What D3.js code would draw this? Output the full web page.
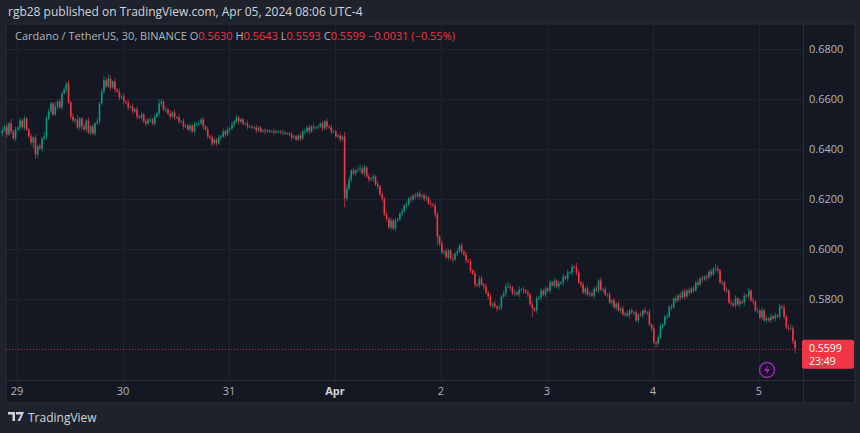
<!DOCTYPE html>
<html><head><meta charset="utf-8">
<script src="https://cdn.jsdelivr.net/npm/d3@7/dist/d3.min.js"></script>
<style>html,body{margin:0;padding:0;background:#1e222d;overflow:hidden}svg{display:block;font-family:"Open Sans","Noto Sans",sans-serif}</style>
</head><body><svg id="c" width="860" height="433"></svg>
<script>
// 30-min closes in pips (x0.0001), first candle Mar 28 20:30 (index -7 relative to Mar 29 00:00)
const closes = [
6472,6488,6456,6500,6468,6440,6476,6484,6512,6484,6520,6476,
6448,6424,6444,6376,6408,6400,6440,6448,6520,6548,6580,6536,
6568,6588,6564,6620,6636,6660,6584,6528,6512,6516,6484,6520,
6488,6476,6512,6464,6488,6460,6500,6508,6580,6628,6672,6648,
6680,6644,6668,6636,6628,6604,6608,6588,6584,6564,6568,6548,
6556,6528,6524,6536,6508,6500,6516,6516,6500,6528,6540,6580,
6588,6556,6556,6540,6528,6544,6524,6524,6508,6508,6488,6492,
6476,6492,6468,6496,6500,6500,6516,6488,6476,6448,6444,6420,
6436,6420,6444,6448,6468,6456,6476,6480,6496,6508,6524,6508,
6516,6500,6500,6488,6488,6484,6484,6472,6484,6468,6472,6468,
6472,6468,6468,6464,6468,6468,6464,6464,6460,6460,6456,6444,
6448,6436,6452,6440,6468,6468,6484,6468,6488,6484,6484,6488,
6500,6480,6508,6488,6484,6468,6468,6448,6452,6436,6448,6200,
6240,6276,6312,6300,6312,6316,6320,6300,6324,6288,6276,6280,
6288,6256,6248,6216,6200,6136,6120,6084,6112,6080,6112,6116,
6140,6148,6172,6176,6200,6196,6212,6208,6220,6208,6212,6200,
6204,6180,6176,6172,6136,6048,6020,5984,5988,5964,5992,5960,
5956,5980,5988,6012,5988,5976,5952,5948,5912,5900,5856,5852,
5880,5856,5848,5824,5808,5772,5780,5768,5760,5764,5808,5820,
5848,5848,5844,5820,5824,5816,5836,5836,5832,5824,5816,5776,
5760,5752,5800,5804,5832,5816,5840,5832,5864,5852,5872,5848,
5860,5864,5888,5880,5904,5904,5928,5924,5904,5864,5856,5824,
5840,5816,5820,5812,5840,5832,5872,5836,5836,5816,5816,5784,
5792,5764,5780,5752,5760,5736,5740,5732,5752,5744,5744,5712,
5736,5732,5752,5744,5744,5696,5680,5624,5620,5644,5688,5696,
5728,5728,5768,5764,5800,5792,5812,5804,5828,5808,5832,5824,
5840,5832,5864,5856,5880,5876,5888,5884,5908,5896,5920,5920,
5912,5864,5864,5832,5832,5784,5780,5772,5800,5776,5788,5784,
5812,5808,5832,5792,5788,5752,5752,5724,5752,5712,5720,5712,
5728,5720,5732,5728,5768,5764,5728,5684,5680,5680,5630,5599];
const firstOpen = 6460;
// upper / lower wick lengths per candle, one digit each (x6 pips)
const wickUp = [
"212131212121","121212132211","312121212131","121212121232","321212121212",
"121212121213","212121212121","121212121212","112121212121","111211121112",
"111211121112","111212121211","121212111213","321212322121","212121212121",
"121212121212","212122121211","312121212121","221212121212","232121212121",
"212121212121","212121213212","121212121212","121212121212","121212121221",
"121212121212","121212121213","212121212121","212121212121","212121212321"].join("");
const wickDn = [
"212121212121","124321212121","121212121212","212121212121","121212121212",
"121212121212","212121212121","121212121212","121212121212","111211121112",
"111211121112","111212121211","121212111216","212121212121","212121212121",
"121212121212","212126212121","212121212121","212121212121","212121212121",
"612121212121","212121212121","212121212121","212121212121","212121213212",
"121212121212","121212121212","212121212121","212121212121","212121212123"].join("");
const priceTicks = [0.58,0.60,0.62,0.64,0.66,0.68];
const dayLabels = ["29","30","31","Apr","2","3","4","5"];
const firstIndex = -7;

const svg = d3.select("#c");
const W=860,H=433, paneL=6, paneT=24, paneR=855, paneB=403, plotR=803;
svg.append("rect").attr("width",W).attr("height",H).attr("fill","#1e222d");
svg.append("rect").attr("x",paneL).attr("y",paneT).attr("width",paneR-paneL).attr("height",paneB-paneT)
  .attr("fill","#141823").attr("stroke","#2a2e39");

const y = d3.scaleLinear().domain([0.58,0.68]).range([298.5,48.5]);
const x = d3.scaleLinear().domain([0,8*48]).range([17,17+8*106]);

const g = svg.append("g");
g.selectAll(".hg").data(priceTicks).join("line").attr("x1",paneL).attr("x2",plotR)
 .attr("y1",d=>Math.round(y(d))+0.5).attr("y2",d=>Math.round(y(d))+0.5).attr("stroke","#1f2330");
g.selectAll(".vg").data(dayLabels).join("line").attr("x1",(d,i)=>Math.round(x(i*48))+0.5).attr("x2",(d,i)=>Math.round(x(i*48))+0.5)
 .attr("y1",paneT).attr("y2",380).attr("stroke","#1f2330");
g.append("line").attr("x1",plotR+0.5).attr("x2",plotR+0.5).attr("y1",paneT).attr("y2",paneB).attr("stroke","#2a2e39");
g.append("line").attr("x1",paneL).attr("x2",paneR).attr("y1",380.5).attr("y2",380.5).attr("stroke","#2a2e39");

const candles = closes.map((c,i)=>{
  const o = i===0?firstOpen:closes[i-1];
  const hi = Math.max(o,c)+(+wickUp[i]||1)*6, lo = Math.min(o,c)-(+wickDn[i]||1)*6;
  return {i:i+firstIndex,o:o/1e4,c:c/1e4,h:hi/1e4,l:lo/1e4};
});
const up="#089981", dn="#f23645";
const cg = g.append("g");
cg.selectAll("line").data(candles).join("line")
 .attr("x1",d=>x(d.i)+0.8).attr("x2",d=>x(d.i)+0.8).attr("y1",d=>y(d.h)).attr("y2",d=>y(d.l))
 .attr("stroke",d=>d.c>=d.o?up:dn).attr("stroke-width",0.9).attr("opacity",0.75);
cg.selectAll("rect").data(candles).join("rect")
 .attr("x",d=>x(d.i)).attr("width",1.6)
 .attr("y",d=>y(Math.max(d.o,d.c))).attr("height",d=>Math.max(0.8,Math.abs(y(d.o)-y(d.c))))
 .attr("fill",d=>d.c>=d.o?up:dn);

const last = candles[candles.length-1];
g.append("line").attr("x1",paneL).attr("x2",plotR).attr("y1",Math.round(y(last.c))+0.5).attr("y2",Math.round(y(last.c))+0.5)
 .attr("stroke",dn).attr("stroke-dasharray","1,2").attr("opacity",0.8);

g.selectAll(".pt").data(priceTicks).join("text").attr("x",809).attr("y",d=>y(d)+4)
 .attr("fill","#b2b5be").attr("font-size",11).text(d=>d.toFixed(4));
g.append("rect").attr("x",802).attr("y",y(last.c)-9).attr("width",52).attr("height",29).attr("rx",2).attr("fill",dn);
g.append("text").attr("x",809).attr("y",y(last.c)+3).attr("fill","#fff").attr("font-size",10.5).text(last.c.toFixed(4));
g.append("text").attr("x",809).attr("y",y(last.c)+16).attr("fill","#fff").attr("font-size",10.5).text("23:49");
const ic = g.append("g").attr("transform","translate(767,370)");
ic.append("circle").attr("r",7.5).attr("fill","none").attr("stroke","#9c27b0").attr("stroke-width",1.5);
ic.append("path").attr("d","M1,-5 L-3,1 L0,1 L-1,5 L3,-1 L0,-1 Z").attr("fill","#9c27b0");

g.selectAll(".xl").data(dayLabels).join("text").attr("x",(d,i)=>x(i*48)).attr("y",395)
 .attr("text-anchor","middle").attr("font-size",11)
 .attr("fill",d=>d==="Apr"?"#d1d4dc":"#b2b5be").attr("font-weight",d=>d==="Apr"?"bold":"normal").text(d=>d);

svg.append("text").attr("x",8).attr("y",16).attr("fill","#d1d4dc").attr("font-size",12)
 .text("rgb28 published on TradingView.com, Apr 05, 2024 08:06 UTC-4");
const lg = svg.append("text").attr("x",15).attr("y",40).attr("font-size",11).attr("fill","#b2b5be");
lg.append("tspan").text("Cardano / TetherUS, 30, BINANCE  O");
lg.append("tspan").attr("fill",dn).text("0.5630");
lg.append("tspan").text(" H");
lg.append("tspan").attr("fill",dn).text("0.5643");
lg.append("tspan").text(" L");
lg.append("tspan").attr("fill",dn).text("0.5593");
lg.append("tspan").text(" C");
lg.append("tspan").attr("fill",dn).text("0.5599  \u22120.0031 (\u22120.55%)");
const ft = svg.append("g").attr("transform","translate(8,412)");
ft.append("path").attr("d","M0,0 H7 V9 H4.5 V2.5 H0 Z M8,0 H16 L12,9 H9.5 L13,2.5 H8 Z").attr("fill","#d1d4dc");
ft.append("text").attr("x",20).attr("y",9.5).attr("fill","#d1d4dc").attr("font-size",12).text("TradingView");
</script></body></html>
